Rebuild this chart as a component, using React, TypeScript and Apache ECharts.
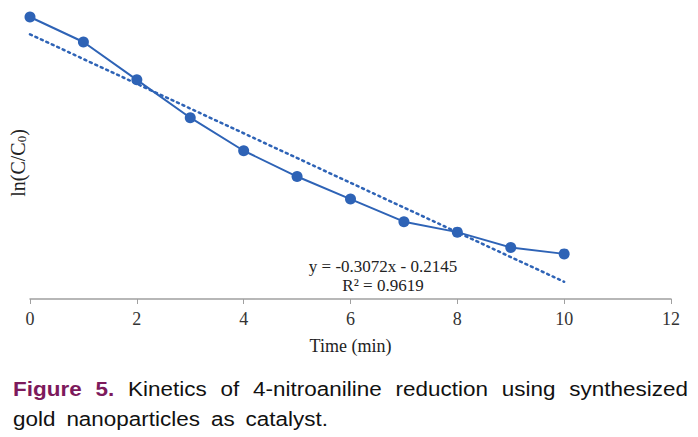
import React, { useEffect, useRef } from "react";
import * as echarts from "echarts";

const times = [0, 1, 2, 3, 4, 5, 6, 7, 8, 9, 10];
const lnValues = [0, -0.31, -0.78, -1.25, -1.66, -1.98, -2.26, -2.54, -2.67, -2.86, -2.94];
const trendSlope = -0.3072;
const trendIntercept = -0.2145;
const trendRange = [0, 10];
const xTicks = { min: 0, max: 12, interval: 2 };
const yRange = { min: -3.5, max: 0 };
const equationText = "y = -0.3072x - 0.2145";
const r2Text = "R\u00b2 = 0.9619";
const captionLabel = ["Figure", "5."];
const captionLine1 = ["Kinetics", "of", "4-nitroaniline", "reduction", "using", "synthesized"];
const captionLine2 = ["gold", "nanoparticles", "as", "catalyst."];

const BLUE = "#2e63b6";
const PURPLE = "#7d1a5c";
const SERIF = "'Liberation Serif', 'DejaVu Serif', serif";
const SANS = "'Liberation Sans', Arial, sans-serif";
const CAP_SIZE = 21;
const CAP_SCALE = 1.07;

function measure(ctx: CanvasRenderingContext2D, text: string, bold: boolean) {
  ctx.font = `${bold ? "bold " : ""}${CAP_SIZE}px 'Liberation Sans', Arial, sans-serif`;
  return ctx.measureText(text).width * CAP_SCALE;
}

export default function App() {
  const ref = useRef<HTMLDivElement>(null);
  useEffect(() => {
    if (!ref.current) return;
    const chart = echarts.init(ref.current, undefined, { renderer: "svg" });
    const trendData = trendRange.map((x) => [x, trendSlope * x + trendIntercept]);
    const ctx = document.createElement("canvas").getContext("2d") as CanvasRenderingContext2D;

    const captionEls: any[] = [];
    const justify = (words: { text: string; bold: boolean }[], x0: number, x1: number, y: number) => {
      const widths = words.map((w) => measure(ctx, w.text, w.bold));
      const total = widths.reduce((a, b) => a + b, 0);
      const gap = (x1 - x0 - total) / (words.length - 1);
      let x = x0;
      words.forEach((w, i) => {
        captionEls.push({
          type: "text",
          x,
          y,
          scaleX: CAP_SCALE,
          style: {
            text: w.text,
            verticalAlign: "middle",
            fontFamily: SANS,
            fontSize: CAP_SIZE,
            fontWeight: w.bold ? "bold" : "normal",
            fill: w.bold ? PURPLE : "#111",
          },
        });
        x += widths[i] + gap;
      });
    };
    justify(
      [
        ...captionLabel.map((t) => ({ text: t, bold: true })),
        ...captionLine1.map((t) => ({ text: t, bold: false })),
      ],
      13,
      688,
      389
    );
    justify(captionLine2.map((t) => ({ text: t, bold: false })), 13, 328, 419);

    chart.setOption({
      animation: false,
      backgroundColor: "#ffffff",
      grid: { left: 30, right: 27, top: 17, bottom: 138 },
      xAxis: {
        type: "value",
        min: xTicks.min,
        max: xTicks.max,
        interval: xTicks.interval,
        name: "Time (min)",
        nameLocation: "middle",
        nameGap: 38,
        nameTextStyle: { fontFamily: SERIF, fontSize: 18, color: "#222" },
        axisLine: { onZero: false, lineStyle: { color: "#a0a0a0", width: 1.5 } },
        axisTick: { show: true, inside: false, length: 5, lineStyle: { color: "#a0a0a0" } },
        axisLabel: { fontFamily: SERIF, fontSize: 18, color: "#333", margin: 11 },
        splitLine: { show: false },
      },
      yAxis: {
        type: "value",
        min: yRange.min,
        max: yRange.max,
        axisLine: { show: false },
        axisTick: { show: false },
        axisLabel: { show: false },
        splitLine: { show: false },
      },
      series: [
        {
          type: "line",
          data: trendData,
          symbol: "none",
          lineStyle: { color: BLUE, width: 2.5, type: [2, 4], cap: "round" },
          z: 1,
        },
        {
          type: "line",
          data: times.map((t, i) => [t, lnValues[i]]),
          symbol: "circle",
          symbolSize: 11,
          itemStyle: { color: BLUE },
          lineStyle: { color: BLUE, width: 2 },
          z: 2,
        },
      ],
      graphic: [
        {
          type: "text",
          x: 18,
          y: 163,
          rotation: Math.PI / 2,
          style: {
            text: "{a|ln(C/C}{b|0}{a|)}",
            align: "center",
            verticalAlign: "middle",
            fill: "#222",
            rich: {
              a: { fontFamily: SERIF, fontSize: 20, fill: "#222" },
              b: { fontFamily: SERIF, fontSize: 13, fill: "#222", verticalAlign: "bottom" },
            },
          },
        },
        {
          type: "text",
          x: 383,
          y: 266,
          style: {
            text: equationText,
            align: "center",
            verticalAlign: "middle",
            fontFamily: SERIF,
            fontSize: 17,
            fill: "#222",
          },
        },
        {
          type: "text",
          x: 383,
          y: 285,
          style: {
            text: r2Text,
            align: "center",
            verticalAlign: "middle",
            fontFamily: SERIF,
            fontSize: 17,
            fill: "#222",
          },
        },
        ...captionEls,
      ],
    });
    return () => chart.dispose();
  }, []);
  return (
    <div
      ref={ref}
      style={{ position: "absolute", left: 0, top: 0, width: 698, height: 437 }}
    />
  );
}
